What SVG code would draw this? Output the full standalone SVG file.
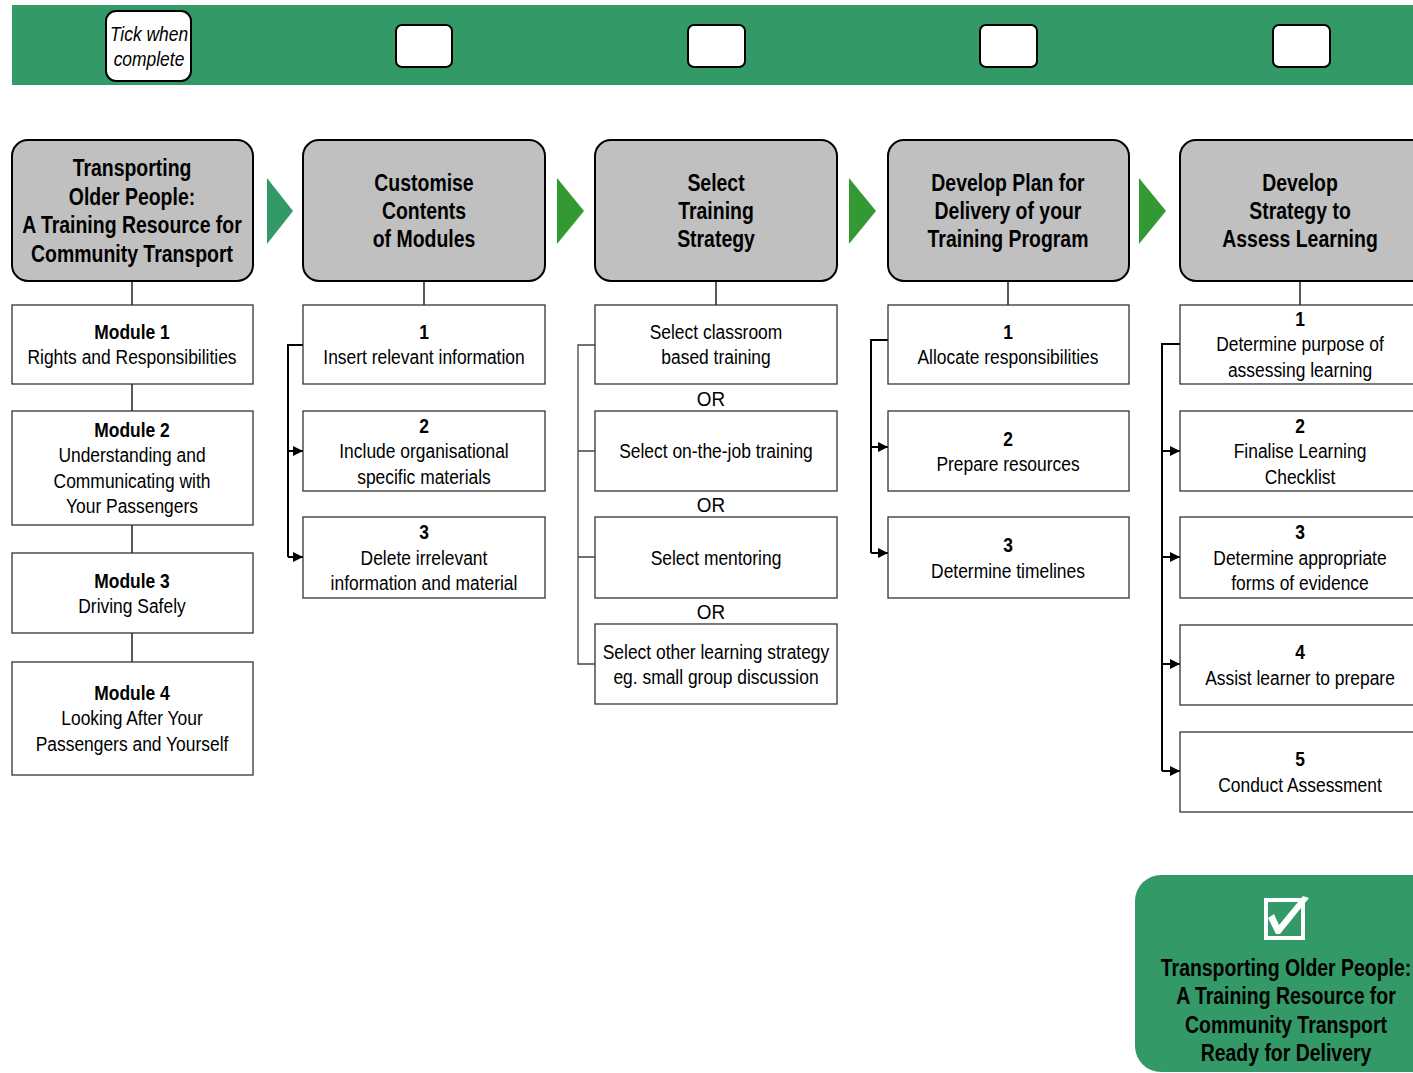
<svg xmlns="http://www.w3.org/2000/svg" width="1413" height="1073" viewBox="0 0 1413 1073">
<defs>
<style>
text{font-family:"Liberation Sans",Arial,sans-serif;fill:#000;text-anchor:middle}
.t{font-size:21px}
.b{font-size:21px;font-weight:bold}
.h{font-size:24px;font-weight:bold}
.i{font-size:21px;font-style:italic}
.hd{fill:#c0c0c0;stroke:#000;stroke-width:2}
.sb{fill:#fff;stroke:#333;stroke-width:1.3}
.tick{fill:#fff;stroke:#000;stroke-width:2}
.ln{fill:none;stroke:#000;stroke-width:1.3}
.br{fill:none;stroke:#000;stroke-width:2}
.gl{fill:none;stroke:#444;stroke-width:1.3}
.arr{fill:none;stroke:#000;stroke-width:2;marker-end:url(#ah)}
</style>
<marker id="ah" viewBox="0 0 10 10" refX="10" refY="5" markerWidth="10" markerHeight="10" markerUnits="userSpaceOnUse" orient="auto">
<path d="M0,0 L10,5 L0,10 z" fill="#000"/>
</marker>
</defs>
<rect width="1413" height="1073" fill="#fff"/>

<g id="topbar">
<rect x="12" y="5" width="1401" height="80" fill="#339966"/>
<rect class="tick" x="106" y="11" width="85" height="70" rx="10"/>
<g transform="translate(149,0) scale(0.83,1)">
<text class="i" x="0" y="41">Tick when</text>
<text class="i" x="0" y="66">complete</text>
</g>
<rect class="tick" x="396" y="25" width="56" height="42" rx="6"/>
<rect class="tick" x="688" y="25" width="57" height="42" rx="6"/>
<rect class="tick" x="980" y="25" width="57" height="42" rx="6"/>
<rect class="tick" x="1273" y="25" width="57" height="42" rx="6"/>
</g>

<g id="arrows-between">
<polygon points="267,178 293,211 267,244" fill="#339966"/>
<polygon points="557,178 584,211 557,244" fill="#339933"/>
<polygon points="849,178 876,211 849,244" fill="#339933"/>
<polygon points="1139,178 1166,211 1139,244" fill="#339933"/>
</g>

<g id="connectors">
<line class="ln" x1="132" y1="281" x2="132" y2="305"/>
<line class="ln" x1="132" y1="384" x2="132" y2="411"/>
<line class="ln" x1="132" y1="525" x2="132" y2="553"/>
<line class="ln" x1="132" y1="633" x2="132" y2="662"/>
<line class="ln" x1="424" y1="281" x2="424" y2="305"/>
<line class="ln" x1="716" y1="281" x2="716" y2="305"/>
<line class="ln" x1="1008" y1="281" x2="1008" y2="305"/>
<line class="ln" x1="1300" y1="281" x2="1300" y2="305"/>
<path class="br" d="M303,345 H288 V557"/>
<path class="arr" d="M288,451 H303"/>
<path class="arr" d="M288,557 H303"/>
<path class="gl" d="M595,345 H578 V664 H595 M578,451 H595 M578,557 H595"/>
<path class="br" d="M888,340 H871 V553"/>
<path class="arr" d="M871,447 H888"/>
<path class="arr" d="M871,553 H888"/>
<path class="br" d="M1180,344 H1162 V771"/>
<path class="arr" d="M1162,451 H1180"/>
<path class="arr" d="M1162,557 H1180"/>
<path class="arr" d="M1162,664 H1180"/>
<path class="arr" d="M1162,771 H1180"/>
</g>

<g id="h1"><rect class="hd" x="12" y="140" width="241" height="141" rx="16"/>
<g transform="translate(132,0) scale(0.81,1)">
<text class="h" x="0" y="176">Transporting</text>
<text class="h" x="0" y="205">Older People:</text>
<text class="h" x="0" y="233">A Training Resource for</text>
<text class="h" x="0" y="262">Community Transport</text></g></g>
<g id="h2"><rect class="hd" x="303" y="140" width="242" height="141" rx="16"/>
<g transform="translate(424,0) scale(0.81,1)">
<text class="h" x="0" y="191">Customise</text>
<text class="h" x="0" y="219">Contents</text>
<text class="h" x="0" y="247">of Modules</text></g></g>
<g id="h3"><rect class="hd" x="595" y="140" width="242" height="141" rx="16"/>
<g transform="translate(716,0) scale(0.81,1)">
<text class="h" x="0" y="191">Select</text>
<text class="h" x="0" y="219">Training</text>
<text class="h" x="0" y="247">Strategy</text></g></g>
<g id="h4"><rect class="hd" x="888" y="140" width="241" height="141" rx="16"/>
<g transform="translate(1008,0) scale(0.81,1)">
<text class="h" x="0" y="191">Develop Plan for</text>
<text class="h" x="0" y="219">Delivery of your</text>
<text class="h" x="0" y="247">Training Program</text></g></g>
<g id="h5"><rect class="hd" x="1180" y="140" width="260" height="141" rx="16"/>
<g transform="translate(1300,0) scale(0.81,1)">
<text class="h" x="0" y="191">Develop</text>
<text class="h" x="0" y="219">Strategy to</text>
<text class="h" x="0" y="247">Assess Learning</text></g></g>

<g id="m1"><rect class="sb" x="12" y="305" width="241" height="79"/>
<g transform="translate(132,0) scale(0.83,1)">
<text class="b" x="0" y="339">Module 1</text>
<text class="t" x="0" y="364">Rights and Responsibilities</text></g></g>
<g id="m2"><rect class="sb" x="12" y="411" width="241" height="114"/>
<g transform="translate(132,0) scale(0.83,1)">
<text class="b" x="0" y="437">Module 2</text>
<text class="t" x="0" y="462">Understanding and</text>
<text class="t" x="0" y="488">Communicating with</text>
<text class="t" x="0" y="513">Your Passengers</text></g></g>
<g id="m3"><rect class="sb" x="12" y="553" width="241" height="80"/>
<g transform="translate(132,0) scale(0.83,1)">
<text class="b" x="0" y="588">Module 3</text>
<text class="t" x="0" y="613">Driving Safely</text></g></g>
<g id="m4"><rect class="sb" x="12" y="662" width="241" height="113"/>
<g transform="translate(132,0) scale(0.83,1)">
<text class="b" x="0" y="700">Module 4</text>
<text class="t" x="0" y="725">Looking After Your</text>
<text class="t" x="0" y="751">Passengers and Yourself</text></g></g>

<g id="c1"><rect class="sb" x="303" y="305" width="242" height="79"/>
<g transform="translate(424,0) scale(0.83,1)">
<text class="b" x="0" y="339">1</text>
<text class="t" x="0" y="364">Insert relevant information</text></g></g>
<g id="c2"><rect class="sb" x="303" y="411" width="242" height="80"/>
<g transform="translate(424,0) scale(0.83,1)">
<text class="b" x="0" y="433">2</text>
<text class="t" x="0" y="458">Include organisational</text>
<text class="t" x="0" y="484">specific materials</text></g></g>
<g id="c3"><rect class="sb" x="303" y="517" width="242" height="81"/>
<g transform="translate(424,0) scale(0.83,1)">
<text class="b" x="0" y="539">3</text>
<text class="t" x="0" y="565">Delete irrelevant</text>
<text class="t" x="0" y="590">information and material</text></g></g>

<g id="s1"><rect class="sb" x="595" y="305" width="242" height="79"/>
<g transform="translate(716,0) scale(0.83,1)">
<text class="t" x="0" y="339">Select classroom</text>
<text class="t" x="0" y="364">based training</text></g></g>
<g id="s2"><rect class="sb" x="595" y="411" width="242" height="80"/>
<g transform="translate(716,0) scale(0.83,1)">
<text class="t" x="0" y="458">Select on-the-job training</text></g></g>
<g id="s3"><rect class="sb" x="595" y="517" width="242" height="81"/>
<g transform="translate(716,0) scale(0.83,1)">
<text class="t" x="0" y="565">Select mentoring</text></g></g>
<g id="s4"><rect class="sb" x="595" y="624" width="242" height="80"/>
<g transform="translate(716,0) scale(0.83,1)">
<text class="t" x="0" y="659">Select other learning strategy</text>
<text class="t" x="0" y="684">eg. small group discussion</text></g></g>
<g id="or-labels" transform="translate(711,0) scale(0.9,1)">
<text class="t" x="0" y="406">OR</text>
<text class="t" x="0" y="512">OR</text>
<text class="t" x="0" y="619">OR</text>
</g>

<g id="d1"><rect class="sb" x="888" y="305" width="241" height="79"/>
<g transform="translate(1008,0) scale(0.83,1)">
<text class="b" x="0" y="339">1</text>
<text class="t" x="0" y="364">Allocate responsibilities</text></g></g>
<g id="d2"><rect class="sb" x="888" y="411" width="241" height="80"/>
<g transform="translate(1008,0) scale(0.83,1)">
<text class="b" x="0" y="446">2</text>
<text class="t" x="0" y="471">Prepare resources</text></g></g>
<g id="d3"><rect class="sb" x="888" y="517" width="241" height="81"/>
<g transform="translate(1008,0) scale(0.83,1)">
<text class="b" x="0" y="552">3</text>
<text class="t" x="0" y="578">Determine timelines</text></g></g>

<g id="a1"><rect class="sb" x="1180" y="305" width="250" height="79"/>
<g transform="translate(1300,0) scale(0.83,1)">
<text class="b" x="0" y="326">1</text>
<text class="t" x="0" y="351">Determine purpose of</text>
<text class="t" x="0" y="377">assessing learning</text></g></g>
<g id="a2"><rect class="sb" x="1180" y="411" width="250" height="80"/>
<g transform="translate(1300,0) scale(0.83,1)">
<text class="b" x="0" y="433">2</text>
<text class="t" x="0" y="458">Finalise Learning</text>
<text class="t" x="0" y="484">Checklist</text></g></g>
<g id="a3"><rect class="sb" x="1180" y="517" width="250" height="81"/>
<g transform="translate(1300,0) scale(0.83,1)">
<text class="b" x="0" y="539">3</text>
<text class="t" x="0" y="565">Determine appropriate</text>
<text class="t" x="0" y="590">forms of evidence</text></g></g>
<g id="a4"><rect class="sb" x="1180" y="625" width="250" height="80"/>
<g transform="translate(1300,0) scale(0.83,1)">
<text class="b" x="0" y="659">4</text>
<text class="t" x="0" y="685">Assist learner to prepare</text></g></g>
<g id="a5"><rect class="sb" x="1180" y="732" width="250" height="80"/>
<g transform="translate(1300,0) scale(0.83,1)">
<text class="b" x="0" y="766">5</text>
<text class="t" x="0" y="792">Conduct Assessment</text></g></g>

<g id="ready">
<rect x="1135" y="875" width="320" height="197" rx="26" fill="#339966"/>
<rect x="1266" y="900" width="37" height="38" fill="none" stroke="#fff" stroke-width="4"/>
<path d="M1268,918 L1274,914 L1279,925 L1303,896 L1309,898 L1280,934 L1276,934 z" fill="#fff"/>
<g transform="translate(1286,0) scale(0.81,1)">
<text class="h" x="0" y="976">Transporting Older People:</text>
<text class="h" x="0" y="1004">A Training Resource for</text>
<text class="h" x="0" y="1033">Community Transport</text>
<text class="h" x="0" y="1061">Ready for Delivery</text></g>
</g>
</svg>
